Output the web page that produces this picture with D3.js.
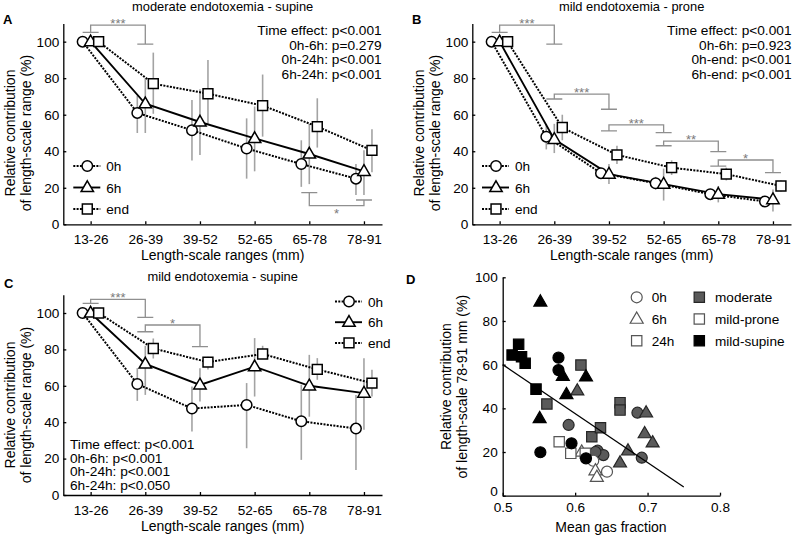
<!DOCTYPE html>
<html><head><meta charset="utf-8">
<script src="https://cdn.jsdelivr.net/npm/d3@7"></script>
<style>
body{margin:0;background:#fff}
text{font-family:"Liberation Sans",Arial,sans-serif;fill:#000}
</style>
</head><body>
<svg id="chart" width="800" height="535"></svg>
<script>
// ---------------- DATA ----------------
const catLabels = ["13-26","26-39","39-52","52-65","65-78","78-91"];
const yTicksLine = [0,20,40,60,80,100];
const seriesNames = ["0h","6h","end"];

// A: moderate endotoxemia - supine
const modSup0h  = [100,61,51.5,41.5,33,25];
const modSup6h  = [100,66,56,47,38.5,29];
const modSupEnd = [100,77,71.5,65,53.5,40.5];
const modSup0hErr  = [null,[50,70.5],[35,68],[25,58],[20.5,46],[16,33]];
const modSup6hErr  = [null,[50,80],[38,74],[29,64.5],[22,55],[16,40.5]];
const modSupEndErr = [null,[60.5,94],[55,90],[48,82],[42,69],[28.5,52]];
const modSupBrackets = [[0,1,109.1,105.1,98.6,"***"],[4,5,10.2,17.3,13.3,"*"]];
const modSupStats = ["Time effect: p<0.001","0h-6h: p=0.279","0h-24h: p<0.001","6h-24h: p<0.001"];

// B: mild endotoxemia - prone
const mildPro0h  = [100,48,28,22.5,16.5,12.5];
const mildPro6h  = [100,46.5,27.5,22,16.5,13.5];
const mildProEnd = [100,53,38,31,27.5,21];
const mildPro0hErr  = [null,[41,55],[25,31],[19,26],[14,19],[10,15]];
const mildPro6hErr  = [null,[39,55],[22,33],[13,30.5],[12,21],[7,19]];
const mildProEndErr = [null,[46,60],[33,43],[27,35],[24,31],[18,24]];
const mildProBrackets = [[0,1,109.1,105.1,98.6,"***"],[1,2,71.3,68.6,63,"***"],[2,3,54.4,51.2,50.2,"***"],[3,4,45.5,43,39.8,"**"],[4,5,35.2,31.9,28.3,"*"]];
const mildProStats = ["Time effect: p<0.001","0h-6h: p=0.923","0h-end: p<0.001","6h-end: p<0.001"];

// C: mild endotoxemia - supine
const mildSup0h  = [100,61,47.5,49.5,40.5,36.5];
const mildSup6h  = [100,72,60.5,70.5,60,56];
const mildSupEnd = [100,80.5,73,77.5,69,61.5];
const mildSup0hErr  = [null,[51.7,69.7],[34.9,59.6],[25.7,61.5],[19.3,60.6],[13.8,55]];
const mildSup6hErr  = [null,[55,82],[51.4,69.7],[54.1,86.2],[43,77],[35.8,75.2]];
const mildSupEndErr = [null,[75,86],[69,76],[75.2,82],[63.3,75.2],[54.1,68.8]];
const mildSupBrackets = [[0,1,107.5,105.3,97.6,"***"],[1,2,93.4,89.7,81.5,"*"]];
const mildSupStats = ["Time effect: p<0.001","0h-6h: p<0.001","0h-24h: p<0.001","6h-24h: p<0.050"];

// D: scatter (mean gas fraction, relative contribution 78-91 mm)
const dXTicks = [0.5,0.6,0.7,0.8];
const dYTicks = [0,20,40,60,80,100];
const moderate0h  = [[0.591,32.4],[0.631,20.6],[0.639,18.6],[0.628,20.0],[0.686,38.0],[0.692,17.4]];
const moderate6h  = [[0.603,48.1],[0.673,20.6],[0.662,15.1],[0.698,38.0],[0.696,28.5],[0.707,24.3]];
const moderate24h = [[0.608,59.8],[0.561,42.0],[0.623,27.0],[0.635,31.1],[0.662,42.6],[0.662,39.2]];
const mildProne0h  = [[0.625,16.0],[0.644,11.0]];
const mildProne6h  = [[0.609,20.1],[0.628,11.5],[0.630,8.5]];
const mildProne24h = [[0.578,24.7],[0.594,19.4],[0.614,19.4]];
const mildSupine0h  = [[0.552,19.9],[0.577,63.2],[0.577,57.5],[0.595,24.0],[0.615,17.1]];
const mildSupine6h  = [[0.552,88.8],[0.551,35.4],[0.588,46.4],[0.583,54.8],[0.615,54.5]];
const mildSupine24h = [[0.513,64.4],[0.522,69.3],[0.526,63.6],[0.531,60.6],[0.546,48.8]];
const regression = [[0.5,60],[0.75,4]];
const dTimeLegend = ["0h","6h","24h"];
const dGroupLegend = ["moderate","mild-prone","mild-supine"];

// ---------------- DRAWING ----------------
const svg = d3.select("#chart");
const FONT = 13.6;

function markerPath(type, s){
  const p = d3.path();
  if(type==="circle"){ p.arc(0,0,s*0.5,0,2*Math.PI); p.closePath(); }
  else if(type==="square"){ const h=s*0.47; p.rect(-h,-h,2*h,2*h); }
  else { const side=s*1.18, ht=side*0.866; p.moveTo(0,-ht*0.62); p.lineTo(side/2,ht*0.38); p.lineTo(-side/2,ht*0.38); p.closePath(); }
  return p.toString();
}
const seriesMarker = ["circle","triangle","square"];
const seriesDash = ["2,1.3",null,"2,1.3"];
const seriesOffset = [-8,0,8];

function styleAxis(g){
  g.selectAll("path,line").attr("stroke","#000").attr("stroke-width",1.3);
  g.selectAll("text").style("font-size",FONT+"px").attr("fill","#000");
}

function linePanel(o){
  const g = svg.append("g");
  const x = d3.scaleLinear().domain([-0.5,5.33]).range([o.x0,o.x1]);
  const y = d3.scaleLinear().domain([0,110]).range([o.yb,o.yb-110*o.k]);

  const xa = g.append("g").attr("transform",`translate(0,${o.yb})`)
    .call(d3.axisBottom(x).tickValues(d3.range(catLabels.length)).tickFormat(i=>catLabels[i]).tickSizeInner(-3).tickSizeOuter(0).tickPadding(10.5));
  styleAxis(xa);
  const ya = g.append("g").attr("transform",`translate(${o.x0},0)`)
    .call(d3.axisLeft(y).tickValues(yTicksLine).tickSizeInner(-3).tickSizeOuter(0).tickPadding(4));
  styleAxis(ya);

  // error bars
  o.errs.forEach((err,si)=>{
    err.forEach((e,i)=>{
      if(!e) return;
      g.append("line").attr("x1",x(i)+seriesOffset[si]).attr("x2",x(i)+seriesOffset[si])
        .attr("y1",y(e[0])).attr("y2",y(e[1])).attr("stroke","#a3a3a3").attr("stroke-width",1.6);
    });
  });
  // brackets
  o.brackets.forEach(b=>{
    const [i1,i2,bar,lv,rv,lab]=b;
    const c=8;
    const p=d3.path();
    p.moveTo(x(i1)-c,y(lv)); p.lineTo(x(i1)+c,y(lv));
    p.moveTo(x(i1),y(lv)); p.lineTo(x(i1),y(bar)); p.lineTo(x(i2),y(bar)); p.lineTo(x(i2),y(rv));
    p.moveTo(x(i2)-c,y(rv)); p.lineTo(x(i2)+c,y(rv));
    g.append("path").attr("d",p.toString()).attr("fill","none").attr("stroke","#8f8f8f").attr("stroke-width",1.3);
    const above = bar > Math.max(lv,rv);
    const cy = above ? y(bar)-4.5 : y(bar)+5;
    g.append("text").attr("x",(x(i1)+x(i2))/2).attr("y",cy+0.57*13).attr("text-anchor","middle")
      .style("font-size","13px").style("fill","#7a7a7a").text(lab);
  });
  // lines
  o.series.forEach((vals,si)=>{
    const line = d3.line().x((d,i)=>x(i)+seriesOffset[si]).y(d=>y(d));
    g.append("path").attr("d",line(vals)).attr("fill","none").attr("stroke","#000")
      .attr("stroke-width",seriesDash[si]?2:1.9).attr("stroke-dasharray",seriesDash[si]);
  });
  // markers
  o.series.forEach((vals,si)=>{
    vals.forEach((v,i)=>{
      g.append("path").attr("d",markerPath(seriesMarker[si],10.5))
        .attr("transform",`translate(${x(i)+seriesOffset[si]},${y(v)})`)
        .attr("fill","#fff").attr("stroke","#000").attr("stroke-width",1.5);
    });
  });
  // legend
  seriesNames.forEach((n,si)=>{
    const ry=o.legY+si*o.legDy;
    g.append("line").attr("x1",o.legX).attr("x2",o.legX+27).attr("y1",ry).attr("y2",ry)
      .attr("stroke","#000").attr("stroke-width",seriesDash[si]?2:1.9).attr("stroke-dasharray",seriesDash[si]);
    g.append("path").attr("d",markerPath(seriesMarker[si],10.5)).attr("transform",`translate(${o.legX+14},${ry})`)
      .attr("fill","#fff").attr("stroke","#000").attr("stroke-width",1.5);
    g.append("text").attr("x",o.legX+33).attr("y",ry+5).style("font-size",FONT+"px").text(n);
  });
  // stats
  o.stats.forEach((s,i)=>{
    g.append("text").attr("x",o.statX).attr("y",o.statY+i*o.statDy).attr("text-anchor",o.statAnchor)
      .style("font-size","13.7px").text(s);
  });
  // titles
  g.append("text").attr("x",(o.x0+o.x1)/2).attr("y",o.titleY).attr("text-anchor","middle").style("font-size","12.9px").text(o.title);
  g.append("text").attr("x",(o.x0+o.x1)/2).attr("y",o.yb+36).attr("text-anchor","middle").style("font-size","14px").text("Length-scale ranges (mm)");
  const ytg = g.append("g").attr("transform",`translate(${o.x0-48},${o.yMid}) rotate(-90)`);
  ytg.append("text").attr("x",0).attr("y",0).attr("text-anchor","middle").style("font-size","14px").text("Relative contribution");
  ytg.append("text").attr("x",0).attr("y",16).attr("text-anchor","middle").style("font-size","14px").text("of length-scale range (%)");
  g.append("text").attr("x",o.letX).attr("y",o.letY).style("font-size","13px").style("font-weight","bold").text(o.letter);
}

linePanel({x0:63.3,x1:382,yb:224.3,k:1.8264,
  series:[modSup0h,modSup6h,modSupEnd],errs:[modSup0hErr,modSup6hErr,modSupEndErr],brackets:modSupBrackets,
  legX:73.3,legY:166,legDy:21.5,stats:modSupStats,statX:381.7,statY:35,statDy:14.7,statAnchor:"end",
  title:"moderate endotoxemia - supine",titleY:10.5,yMid:133,letter:"A",letX:3,letY:24});
linePanel({x0:472.3,x1:791,yb:224.3,k:1.8264,
  series:[mildPro0h,mildPro6h,mildProEnd],errs:[mildPro0hErr,mildPro6hErr,mildProEndErr],brackets:mildProBrackets,
  legX:482,legY:166,legDy:21.5,stats:mildProStats,statX:791.5,statY:35,statDy:14.7,statAnchor:"end",
  title:"mild endotoxemia - prone",titleY:10.5,yMid:133,letter:"B",letX:412,letY:24});
linePanel({x0:63.3,x1:382,yb:495,k:1.82,
  series:[mildSup0h,mildSup6h,mildSupEnd],errs:[mildSup0hErr,mildSup6hErr,mildSupEndErr],brackets:mildSupBrackets,
  legX:335,legY:301.5,legDy:20.7,stats:mildSupStats,statX:70,statY:449,statDy:13.7,statAnchor:"start",
  title:"mild endotoxemia - supine",titleY:280.5,yMid:405,letter:"C",letX:4,letY:288});

// ---- Panel D ----
(function(){
  const g = svg.append("g");
  const x = d3.scaleLinear().domain([0.5,0.8]).range([502.7,720]);
  const y = d3.scaleLinear().domain([0,100]).range([495.7,277.3]);
  const xa = g.append("g").attr("transform","translate(0,495.7)")
    .call(d3.axisBottom(x).tickValues(dXTicks).tickFormat(d3.format(".1f")).tickSizeInner(-3).tickSizeOuter(0).tickPadding(7));
  styleAxis(xa);
  const ya = g.append("g").attr("transform","translate(502.7,0)")
    .call(d3.axisLeft(y).tickValues(dYTicks).tickSizeInner(-3).tickSizeOuter(0).tickPadding(5));
  styleAxis(ya);
  ya.selectAll(".tick text").filter(d=>d===0).attr("dy","-0.05em");

  const groupFill = ["#5a5a5a","#ffffff","#000000"];
  const groupStroke = ["#262626","#555555","#000000"];
  const timeMarker = ["circle","triangle","square"];
  const groups = [[moderate0h,moderate6h,moderate24h],[mildProne0h,mildProne6h,mildProne24h],[mildSupine0h,mildSupine6h,mildSupine24h]];
  groups.forEach((grp,gi)=>{
    grp.forEach((pts,ti)=>{
      pts.forEach(p=>{
        g.append("path").attr("d",markerPath(timeMarker[ti],11))
          .attr("transform",`translate(${x(p[0])},${y(p[1])})`)
          .attr("fill",groupFill[gi]).attr("stroke",groupStroke[gi]).attr("stroke-width",1.2);
      });
    });
  });
  g.append("path").attr("d",d3.line().x(d=>x(d[0])).y(d=>y(d[1]))(regression))
    .attr("fill","none").attr("stroke","#000").attr("stroke-width",1.3);

  // legend
  dTimeLegend.forEach((t,i)=>{
    const ry = 297.3+i*21.7;
    g.append("path").attr("d",markerPath(timeMarker[i],11)).attr("transform",`translate(636.7,${ry})`)
      .attr("fill","#fff").attr("stroke","#555").attr("stroke-width",1.2);
    g.append("text").attr("x",651.7).attr("y",ry+5).style("font-size",FONT+"px").text(t);
  });
  dGroupLegend.forEach((t,i)=>{
    const ry = 297.3+i*21.7;
    g.append("path").attr("d",markerPath("square",11)).attr("transform",`translate(699.3,${ry})`)
      .attr("fill",groupFill[i]).attr("stroke",groupStroke[i]).attr("stroke-width",1.2);
    g.append("text").attr("x",715).attr("y",ry+5).style("font-size",FONT+"px").text(t);
  });

  g.append("text").attr("x",611).attr("y",531.5).attr("text-anchor","middle").style("font-size","14px").text("Mean gas fraction");
  const ytg = g.append("g").attr("transform","translate(450.5,386.7) rotate(-90)");
  ytg.append("text").attr("x",0).attr("y",0).attr("text-anchor","middle").style("font-size","14px").text("Relative contribution");
  ytg.append("text").attr("x",0).attr("y",16).attr("text-anchor","middle").style("font-size","14px").text("of length-scale 78-91 mm (%)");
  g.append("text").attr("x",406).attr("y",284).style("font-size","13px").style("font-weight","bold").text("D");
})();
</script>
</body></html>
